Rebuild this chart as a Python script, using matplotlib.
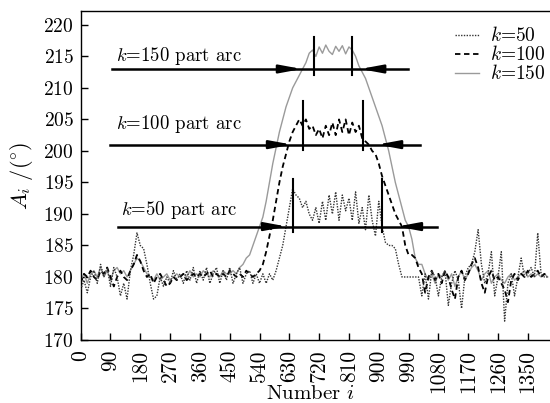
import matplotlib
matplotlib.use("Agg")
import matplotlib.pyplot as plt

plt.rcParams['font.family'] = ['cmr10', 'DejaVu Serif']
plt.rcParams['mathtext.fontset'] = 'cm'
plt.rcParams['axes.unicode_minus'] = False
plt.rcParams['axes.formatter.use_mathtext'] = True

sample_i = list(range(0, 1420, 10))

k150 = [179.5, 180.5, 179.0, 180.5, 181.0, 180.0,
        181.5, 180.0, 181.0, 179.5, 181.0, 181.5,
        180.5, 181.0, 180.0, 181.0, 182.0, 183.0,
        182.5, 181.5, 180.5, 180.0, 179.5, 180.5,
        179.5, 180.0, 180.5, 179.5, 180.0, 180.5,
        180.0, 180.5, 180.0, 181.0, 180.0, 180.5,
        180.0, 181.0, 180.5, 180.0, 181.0, 180.5,
        180.0, 181.0, 180.5, 180.5, 181.0, 180.5,
        181.5, 182.0, 183.0, 183.5, 185.0, 186.5,
        188.0, 189.5, 192.0, 195.0, 198.0, 200.5,
        203.0, 205.0, 207.0, 208.5, 210.0, 211.0,
        212.0, 213.0, 214.0, 215.5, 216.0, 215.0,
        216.5, 215.5, 216.8, 215.8, 215.3, 216.6,
        215.8, 216.7, 215.4, 216.5, 216.0, 215.0,
        213.5, 212.5, 211.5, 210.0, 208.5, 207.0,
        205.5, 204.0, 202.0, 200.0, 197.5, 195.0,
        193.0, 191.0, 189.0, 188.0, 186.0, 183.0,
        182.0, 182.0, 180.5, 179.5, 180.5, 179.0,
        180.5, 180.0, 181.0, 179.5, 180.5, 178.5,
        180.0, 181.0, 179.5, 180.5, 181.5, 182.0,
        181.0, 179.5, 180.5, 181.0, 179.0, 180.0,
        180.5, 179.5, 179.0, 180.0, 180.5, 179.5,
        180.0, 180.5, 181.0, 180.0, 180.5, 180.0,
        180.5, 180.0, 180.5, 180.0]

k100 = [179.0, 180.5, 180.0, 181.0, 180.0, 179.5,
        181.0, 180.5, 181.5, 180.0, 178.5, 180.0,
        181.0, 180.0, 179.5, 181.0, 182.0, 183.5,
        182.5, 181.0, 180.0, 180.5, 179.0, 180.0,
        180.5, 179.5, 178.5, 179.0, 180.0, 179.5,
        180.0, 180.5, 179.5, 180.0, 180.5, 180.0,
        180.5, 180.0, 180.5, 181.0, 180.0, 180.5,
        180.0, 180.5, 180.0, 181.0, 180.5, 180.0,
        180.5, 180.0, 181.0, 180.5, 180.0, 180.5,
        181.0, 182.0, 184.0, 186.5, 189.0, 192.0,
        195.0, 197.5, 199.5, 201.5, 203.0, 204.0,
        205.0, 204.0, 205.0, 203.5, 204.0, 202.5,
        203.5, 202.0, 204.0, 202.5, 204.5, 202.5,
        205.0, 203.0, 205.0, 202.5, 204.5, 203.0,
        204.0, 202.0, 201.5, 201.0, 200.0, 199.5,
        198.0, 196.0, 194.5, 193.0, 191.5, 190.0,
        189.0, 188.0, 185.0, 183.5, 183.5, 183.0,
        181.5, 180.5, 177.5, 180.0, 181.0, 179.5,
        180.5, 179.0, 181.0, 180.0, 178.0, 176.5,
        180.0, 181.0, 179.5, 180.5, 182.0, 183.0,
        181.5, 179.0, 177.5, 180.0, 181.0, 179.5,
        180.0, 179.0, 178.0, 176.0, 179.5, 180.5,
        179.5, 180.5, 180.0, 181.0, 180.0, 180.5,
        181.0, 180.0, 180.5, 180.0]

k50 = [178.0, 179.5, 177.5, 180.0, 181.0, 179.0,
       182.0, 180.0, 181.5, 178.5, 181.5, 180.0,
       177.0, 179.0, 176.5, 181.0, 183.5, 187.0,
       185.0, 184.5, 182.0, 179.0, 176.5, 177.0,
       180.0, 178.5, 180.0, 179.0, 181.0, 179.5,
       180.5, 179.0, 181.0, 179.5, 181.5, 179.0,
       181.0, 179.5, 181.5, 179.0, 180.5, 181.5,
       179.0, 181.0, 179.5, 181.5, 179.0, 180.5,
       181.5, 179.0, 180.5, 181.0, 179.0, 180.5,
       179.0, 180.5, 179.0, 180.5, 179.5, 181.0,
       183.0, 185.0, 188.0, 191.0, 194.0, 193.0,
       192.5, 191.0, 192.0, 190.0, 189.0, 191.0,
       188.5, 192.0, 189.0, 193.0, 190.0, 193.5,
       189.0, 193.0, 190.5, 192.5, 189.0, 193.5,
       188.5, 191.0, 187.5, 193.0, 189.0, 186.5,
       192.0, 188.0, 185.5, 185.0, 185.0, 184.5,
       182.0, 180.0, 180.0, 180.0, 180.0, 180.0,
       180.0, 177.0, 180.5, 176.5, 181.0, 180.0,
       177.0, 180.0, 181.0, 175.5, 179.0, 181.0,
       179.5, 175.0, 180.0, 181.5, 182.0, 184.0,
       187.5, 182.0, 179.0, 180.5, 184.0, 177.0,
       180.0, 184.0, 173.0, 179.0, 180.5, 177.0,
       180.0, 183.0, 180.0, 180.5, 181.5, 180.0,
       187.0, 180.5, 180.0, 180.0]

# part-arc annotations (k, level, arc bounds, guide line extent, arrow tips)
arc_k = [150, 100, 50]
arc_level = [213, 201, 188]
arc_left = [705, 672, 641]
arc_right = [820, 853, 910]
arc_vtop = [218.0, 208.0, 195.6]
arc_vbot = [212.0, 200.2, 187.1]
guide_from = [95, 88, 113]
guide_to = [988, 1025, 1076]
tip_left = [668, 638, 623]
tip_right = [844, 895, 955]
label_x = [108, 108, 123]
label_y = [214.3, 203.4, 189.8]

xticks = list(range(0, 1351, 90))
yticks = list(range(170, 221, 5))

fig = plt.figure(figsize=(5.5, 4.03), dpi=100)
ax = fig.add_axes([0.1467, 0.1563, 0.8533, 0.8164])

ax.plot(sample_i, k150, color='#9a9a9a', lw=1.0, label=r'$k$=150', zorder=2)
ax.plot(sample_i, k100, color='black', lw=1.3, ls=(0, (3, 2)), label=r'$k$=100', zorder=3)
ax.plot(sample_i, k50, color='#333333', lw=1.0, ls=(0, (1, 1)), label=r'$k$=50', zorder=4)

for k, lev, a, b, vt, vb, g0, g1, tl, tr, lx, ly in zip(
        arc_k, arc_level, arc_left, arc_right, arc_vtop, arc_vbot,
        guide_from, guide_to, tip_left, tip_right, label_x, label_y):
    ax.plot([g0, g1], [lev, lev], color='black', lw=1.8, zorder=5)
    ax.plot([a, a], [vb, vt], color='black', lw=1.5, zorder=5)
    ax.plot([b, b], [vb, vt], color='black', lw=1.5, zorder=5)
    ax.annotate('', xy=(tl, lev), xytext=(tl - 50, lev),
                arrowprops=dict(arrowstyle='-|>,head_length=1.3,head_width=0.24',
                                color='black', lw=1.8, shrinkA=0, shrinkB=0), zorder=6)
    ax.annotate('', xy=(tr, lev), xytext=(tr + 50, lev),
                arrowprops=dict(arrowstyle='-|>,head_length=1.3,head_width=0.24',
                                color='black', lw=1.8, shrinkA=0, shrinkB=0), zorder=6)
    ax.text(lx, ly, r'$k$=%d part arc' % k, fontsize=13.5, va='baseline', ha='left')

ax.set_xlim(0, 1417)
ax.set_ylim(170, 222.2)
ax.set_xticks(xticks)
ax.set_xticklabels([str(v) for v in xticks], rotation=90)
ax.set_yticks(yticks)
ax.tick_params(axis='both', direction='in', length=5, width=1)
ax.tick_params(axis='y', labelsize=14, pad=5)
ax.tick_params(axis='x', labelsize=15.5, pad=7)
ax.spines['right'].set_visible(False)
for s in ['left', 'top', 'bottom']:
    ax.spines[s].set_linewidth(1.0)

ax.set_xlabel(r'Number $i$', fontsize=15, va='top')
ax.xaxis.set_label_coords(0.49, -0.137)
ax.set_ylabel(r'$A_i\ /(^{\circ})$', fontsize=16, labelpad=6)

h, l = ax.get_legend_handles_labels()
order = [2, 1, 0]
ax.legend([h[i] for i in order], [l[i] for i in order], loc='upper right',
          bbox_to_anchor=(1.0, 0.965), frameon=False, fontsize=14,
          handlelength=1.2, handletextpad=0.6, labelspacing=0.0, borderpad=0.1,
          borderaxespad=0.1)

fig.savefig('out.png', dpi=100)
